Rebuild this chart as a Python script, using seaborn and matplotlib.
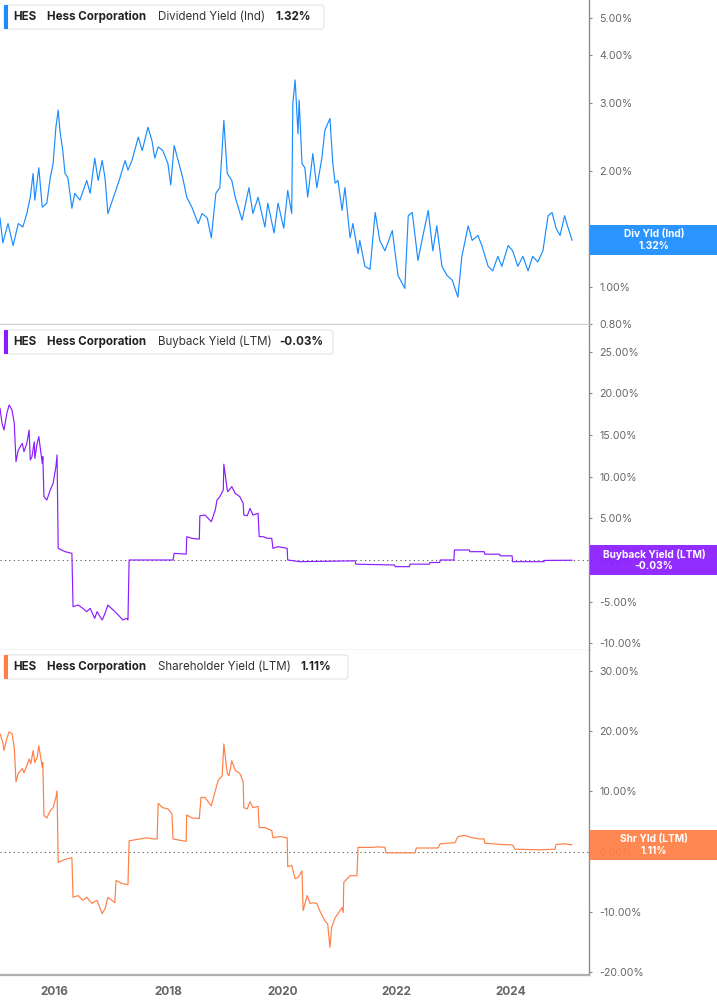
import numpy as np
import pandas as pd
import matplotlib
matplotlib.use("Agg")
import matplotlib.pyplot as plt
from matplotlib.patches import Rectangle, FancyBboxPatch
from matplotlib.ticker import FixedLocator, NullLocator
from matplotlib.transforms import IdentityTransform
import seaborn as sns

# dates as decimal years, values in percent
div_t = [2015.05, 2015.10, 2015.19, 2015.28, 2015.37, 2015.45, 2015.52, 2015.58, 2015.63, 2015.66,
         2015.73, 2015.79, 2015.87, 2015.93, 2015.98, 2016.03, 2016.07, 2016.10, 2016.15, 2016.19,
         2016.24, 2016.31, 2016.36, 2016.45, 2016.57, 2016.63, 2016.71, 2016.77, 2016.84, 2016.89,
         2016.94, 2017.06, 2017.15, 2017.24, 2017.29, 2017.36, 2017.47, 2017.54, 2017.64, 2017.71,
         2017.76, 2017.82, 2017.90, 2017.99, 2018.04, 2018.10, 2018.17, 2018.25, 2018.32, 2018.41,
         2018.52, 2018.59, 2018.68, 2018.75, 2018.83, 2018.90, 2018.97, 2019.03, 2019.11, 2019.17,
         2019.29, 2019.41, 2019.48, 2019.57, 2019.69, 2019.74, 2019.85, 2019.92, 2020.02, 2020.09,
         2020.16, 2020.18, 2020.22, 2020.27, 2020.29, 2020.34, 2020.39, 2020.44, 2020.53, 2020.60,
         2020.69, 2020.74, 2020.83, 2020.88, 2020.92, 2020.97, 2021.04, 2021.09, 2021.18, 2021.23,
         2021.32, 2021.35, 2021.44, 2021.53, 2021.62, 2021.70, 2021.79, 2021.92, 2022.02, 2022.14,
         2022.20, 2022.27, 2022.37, 2022.44, 2022.55, 2022.63, 2022.70, 2022.79, 2022.88, 2022.97,
         2023.07, 2023.14, 2023.25, 2023.32, 2023.42, 2023.49, 2023.60, 2023.68, 2023.77, 2023.84,
         2023.95, 2024.03, 2024.12, 2024.21, 2024.30, 2024.38, 2024.47, 2024.56, 2024.65, 2024.72,
         2024.79, 2024.86, 2024.94, 2024.99, 2025.07]
div_v = [1.51, 1.30, 1.46, 1.28, 1.46, 1.43, 1.55, 1.71, 1.97, 1.68,
         2.04, 1.61, 1.65, 1.92, 2.09, 2.60, 2.88, 2.55, 2.26, 1.97,
         1.92, 1.60, 1.75, 1.68, 1.89, 1.75, 2.16, 1.89, 2.13, 1.92,
         1.55, 1.75, 1.92, 2.13, 2.01, 2.13, 2.45, 2.26, 2.60, 2.40,
         2.16, 2.31, 2.26, 2.09, 1.84, 2.33, 2.13, 1.92, 1.71, 1.61,
         1.46, 1.55, 1.51, 1.34, 1.75, 1.81, 2.71, 1.97, 1.89, 1.71,
         1.49, 1.81, 1.55, 1.71, 1.43, 1.65, 1.38, 1.65, 1.42, 1.78,
         1.55, 3.00, 3.45, 2.50, 3.06, 2.09, 2.04, 1.71, 2.22, 1.81,
         2.17, 2.55, 2.74, 2.09, 1.86, 1.89, 1.58, 1.81, 1.34, 1.46,
         1.22, 1.32, 1.13, 1.11, 1.56, 1.32, 1.24, 1.40, 1.07, 0.99,
         1.53, 1.56, 1.17, 1.32, 1.58, 1.24, 1.44, 1.13, 1.07, 1.04,
         0.94, 1.20, 1.44, 1.32, 1.36, 1.28, 1.13, 1.10, 1.20, 1.13,
         1.28, 1.24, 1.13, 1.20, 1.10, 1.20, 1.16, 1.24, 1.53, 1.56,
         1.42, 1.36, 1.53, 1.44, 1.32]

bb_t = [2015.05, 2015.085, 2015.12, 2015.17, 2015.21, 2015.26, 2015.30, 2015.33, 2015.37, 2015.44,
        2015.47, 2015.52, 2015.56, 2015.58, 2015.61, 2015.65, 2015.66, 2015.70, 2015.73, 2015.79,
        2015.80, 2015.82, 2015.87, 2015.93, 2015.98, 2016.03, 2016.05, 2016.07, 2016.19, 2016.31,
        2016.33, 2016.42, 2016.50, 2016.57, 2016.63, 2016.71, 2016.75, 2016.84, 2016.89, 2016.94,
        2017.03, 2017.12, 2017.20, 2017.27, 2017.29, 2017.31, 2018.08, 2018.10, 2018.31, 2018.32,
        2018.41, 2018.54, 2018.55, 2018.64, 2018.75, 2018.82, 2018.85, 2018.90, 2018.96, 2018.97,
        2019.03, 2019.04, 2019.11, 2019.17, 2019.25, 2019.31, 2019.32, 2019.38, 2019.43, 2019.48,
        2019.57, 2019.59, 2019.66, 2019.73, 2019.81, 2019.83, 2019.92, 2020.08, 2020.09, 2020.30,
        2021.27, 2021.28, 2021.96, 2021.97, 2022.22, 2022.23, 2022.57, 2022.58, 2022.75, 2022.76,
        2023.00, 2023.01, 2023.27, 2023.28, 2023.53, 2023.54, 2023.80, 2023.81, 2024.02, 2024.03,
        2024.58, 2024.59, 2025.07]
bb_v = [18.2, 16.4, 15.6, 17.6, 18.6, 18.0, 16.4, 11.8, 13.2, 14.0,
        13.0, 14.0, 15.6, 12.0, 12.4, 14.2, 12.2, 14.0, 14.8, 11.6,
        12.4, 7.6, 7.2, 8.4, 9.2, 11.2, 12.6, 1.4, 1.0, 0.8,
        -5.6, -5.4, -5.8, -6.2, -5.8, -7.0, -6.2, -7.2, -6.4, -5.4,
        -6.0, -6.6, -7.2, -7.0, -7.2, 0.0, 0.0, 0.8, 0.7, 2.8,
        2.6, 2.5, 5.3, 5.4, 4.6, 6.0, 7.2, 7.6, 8.4, 11.5,
        8.4, 8.2, 8.8, 8.0, 7.6, 6.8, 5.4, 5.3, 6.2, 5.4,
        5.6, 2.8, 2.8, 2.6, 2.6, 1.4, 1.6, 1.4, 0.0, -0.2,
        -0.1, -0.5, -0.6, -0.8, -0.8, -0.5, -0.5, -0.3, -0.3, 0.0,
        0.0, 1.2, 1.2, 1.0, 1.0, 0.7, 0.7, 0.5, 0.5, -0.2,
        -0.2, -0.05, -0.03]

shr_t = [2015.05, 2015.10, 2015.12, 2015.17, 2015.21, 2015.26, 2015.30, 2015.33, 2015.37, 2015.44,
         2015.47, 2015.52, 2015.56, 2015.59, 2015.63, 2015.66, 2015.70, 2015.73, 2015.79, 2015.80,
         2015.82, 2015.87, 2015.93, 2015.98, 2016.03, 2016.05, 2016.07, 2016.19, 2016.31, 2016.33,
         2016.42, 2016.50, 2016.57, 2016.66, 2016.75, 2016.84, 2016.89, 2016.94, 2017.01, 2017.06,
         2017.08, 2017.19, 2017.29, 2017.31, 2017.50, 2017.62, 2017.73, 2017.80, 2017.82, 2017.90,
         2017.99, 2018.06, 2018.08, 2018.31, 2018.32, 2018.41, 2018.54, 2018.57, 2018.64, 2018.75,
         2018.82, 2018.87, 2018.94, 2018.97, 2019.03, 2019.06, 2019.11, 2019.17, 2019.25, 2019.31,
         2019.32, 2019.38, 2019.43, 2019.48, 2019.57, 2019.59, 2019.69, 2019.81, 2019.83, 2019.95,
         2020.08, 2020.09, 2020.16, 2020.22, 2020.27, 2020.34, 2020.36, 2020.43, 2020.48, 2020.53,
         2020.60, 2020.65, 2020.74, 2020.79, 2020.83, 2020.86, 2020.92, 2020.97, 2021.04, 2021.06,
         2021.07, 2021.18, 2021.30, 2021.32, 2021.58, 2021.67, 2021.79, 2021.81, 2022.32, 2022.34,
         2022.72, 2022.76, 2023.02, 2023.07, 2023.19, 2023.32, 2023.46, 2023.53, 2023.54, 2023.81,
         2024.03, 2024.07, 2024.51, 2024.77, 2024.79, 2024.94, 2025.07]
shr_v = [19.6, 18.1, 16.8, 18.8, 19.9, 19.6, 17.3, 11.6, 13.0, 13.8,
         13.1, 14.3, 15.4, 14.6, 16.8, 14.8, 15.6, 17.6, 14.0, 14.8,
         6.0, 5.6, 6.8, 7.3, 9.0, 10.1, -1.8, -1.3, -1.0, -7.6,
         -7.3, -8.1, -7.6, -8.6, -8.1, -10.3, -9.5, -7.6, -8.1, -8.5,
         -4.8, -5.3, -5.5, 1.8, 2.1, 2.3, 2.1, 2.1, 8.0, 7.3,
         7.1, 6.3, 2.1, 1.7, 6.1, 5.6, 5.5, 9.0, 9.0, 7.6,
         10.1, 11.8, 12.6, 17.9, 13.0, 12.6, 15.1, 13.5, 13.0, 11.6,
         7.3, 7.1, 8.3, 7.3, 7.5, 4.0, 4.0, 3.5, 2.3, 2.5,
         2.3, -2.5, -2.3, -4.5, -4.3, -3.2, -9.8, -7.3, -8.6, -8.5,
         -8.6, -9.8, -11.5, -12.0, -15.9, -12.6, -11.0, -10.3, -9.3, -10.1,
         -5.1, -4.0, -4.0, 0.7, 0.7, 0.8, 0.7, -0.2, -0.2, 0.6,
         0.6, 1.3, 1.5, 2.5, 2.7, 2.3, 2.1, 2.1, 1.4, 1.2,
         1.1, 0.4, 0.3, 0.4, 1.2, 1.3, 1.11]

year_ticks = [2016, 2018, 2020, 2022, 2024]
div_ticks = [0.8, 1, 2, 3, 4, 5]
bb_ticks = [-10, -5, 0, 5, 10, 15, 20, 25]
shr_ticks = [-20, -10, 0, 10, 20, 30]

BLUE = "#1a8cff"
PURPLE = "#8b1cff"
ORANGE = "#ff7f45"


def to_date(years):
    out = []
    for y in years:
        yr = int(np.floor(y))
        out.append(pd.Timestamp(year=yr, month=1, day=1) + pd.Timedelta(days=(y - yr) * 365.25))
    return out


sns.set_style("white")
plt.rcParams['font.family'] = ['Inter', 'DejaVu Sans']

W, H = 717, 1005
fig = plt.figure(figsize=(W / 100, H / 100), dpi=100)
ident = IdentityTransform()

panels = [(0, 324), (325, 650), (650, 975)]
axes = []
for top, bot in panels:
    ax = fig.add_axes([0, 1 - bot / H, 589 / W, (bot - top) / H])
    axes.append(ax)

series = [
    (div_t, div_v, BLUE),
    (bb_t, bb_v, PURPLE),
    (shr_t, shr_v, ORANGE),
]
for ax, (t, v, c) in zip(axes, series):
    sns.lineplot(x=to_date(t), y=v, ax=ax, color=c, linewidth=0.85,
                 estimator=None, sort=False)

x0, x1 = to_date([2015.05, 2025.365])
for i, ax in enumerate(axes):
    ax.set_xlim(x0, x1)
    ax.set_xlabel("")
    ax.set_ylabel("")
    ax.yaxis.tick_right()
    ax.spines['top'].set_visible(False)
    ax.spines['left'].set_visible(False)
    ax.spines['right'].set_color("#8c8c8c")
    ax.spines['right'].set_linewidth(1.0)
    if i < 2:
        ax.spines['bottom'].set_color("#cfcfcf")
        ax.spines['bottom'].set_linewidth(1.0)
        ax.set_xticks([])
    else:
        ax.spines['bottom'].set_color("#b0b0b0")
        ax.spines['bottom'].set_linewidth(1.6)
        ax.set_xticks(to_date(year_ticks))
        ax.set_xticklabels([str(y) for y in year_ticks], fontsize=8.5,
                           fontweight='bold', color="#666666")
        ax.tick_params(axis='x', direction='out', length=3, color="#999999", pad=5)
    ax.tick_params(axis='y', direction='out', length=2.5, color="#888888",
                   labelsize=7.6, labelcolor="#666666", pad=5)

ax1, ax2, ax3 = axes
ax1.set_yscale('log')
ax1.set_ylim(0.8, 5.57)
ax1.yaxis.set_major_locator(FixedLocator(div_ticks))
ax1.yaxis.set_minor_locator(NullLocator())
ax1.set_yticklabels([f"{v:.2f}%" for v in div_ticks])

ax2.set_ylim(-10.8, 28.2)
ax2.set_yticks(bb_ticks)
ax2.set_yticklabels([f"{v:.2f}%" for v in bb_ticks])

ax3.set_ylim(-20.5, 33.5)
ax3.set_yticks(shr_ticks)
ax3.set_yticklabels([f"{v:.2f}%" for v in shr_ticks])

for ax in (ax2, ax3):
    ax.axhline(0, color="#555555", linewidth=0.8, linestyle=(0, (1, 3)), zorder=1)

# legend boxes
legends = [
    (0, 324, BLUE, "Dividend Yield (Ind)", "1.32%", 275),
    (325, 333, PURPLE, "Buyback Yield (LTM)", "-0.03%", 279),
    (650, 348, ORANGE, "Shareholder Yield (LTM)", "1.11%", 300),
]
FS = 8.3
for top, right, c, name, val, vx in legends:
    y0, y1 = top + 5, top + 29
    box = FancyBboxPatch((4, H - y1), right - 4, y1 - y0, transform=ident,
                         boxstyle="round,pad=0,rounding_size=3",
                         facecolor="white", edgecolor="#e4e4e4", linewidth=0.8, zorder=4)
    fig.add_artist(box)
    fig.add_artist(Rectangle((4, H - y1), 3.5, y1 - y0, transform=ident,
                             facecolor=c, edgecolor="none", zorder=5))
    yc = H - (top + 17)
    fig.text(13, yc, "HES", transform=ident, fontsize=FS, fontweight='bold',
             color="#222222", va='center', zorder=6)
    fig.text(47, yc, "Hess Corporation", transform=ident, fontsize=FS, fontweight='bold',
             color="#222222", va='center', zorder=6)
    fig.text(158, yc, name, transform=ident, fontsize=FS, color="#333333",
             va='center', zorder=6)
    fig.text(vx, yc, val, transform=ident, fontsize=FS, fontweight='bold',
             color="#222222", va='center', zorder=6)

# value badges on the right axis
fig.canvas.draw()
badges = [
    (ax1, 1.32, BLUE, "Div Yld (Ind)", "1.32%"),
    (ax2, -0.03, PURPLE, "Buyback Yield (LTM)", "-0.03%"),
    (ax3, 1.11, ORANGE, "Shr Yld (LTM)", "1.11%"),
]
for ax, val, c, lab, txt in badges:
    yc = ax.transData.transform((0, val))[1]
    fig.add_artist(Rectangle((590, yc - 15), 127, 30, transform=ident,
                             facecolor=c, edgecolor="none", alpha=0.93, zorder=5))
    fig.text(654, yc + 6, lab, transform=ident, fontsize=7.3, fontweight='bold',
             color="white", ha='center', va='center', zorder=6)
    fig.text(654, yc - 6, txt, transform=ident, fontsize=7.3, fontweight='bold',
             color="white", ha='center', va='center', zorder=6)

fig.savefig("out.png", dpi=100)
